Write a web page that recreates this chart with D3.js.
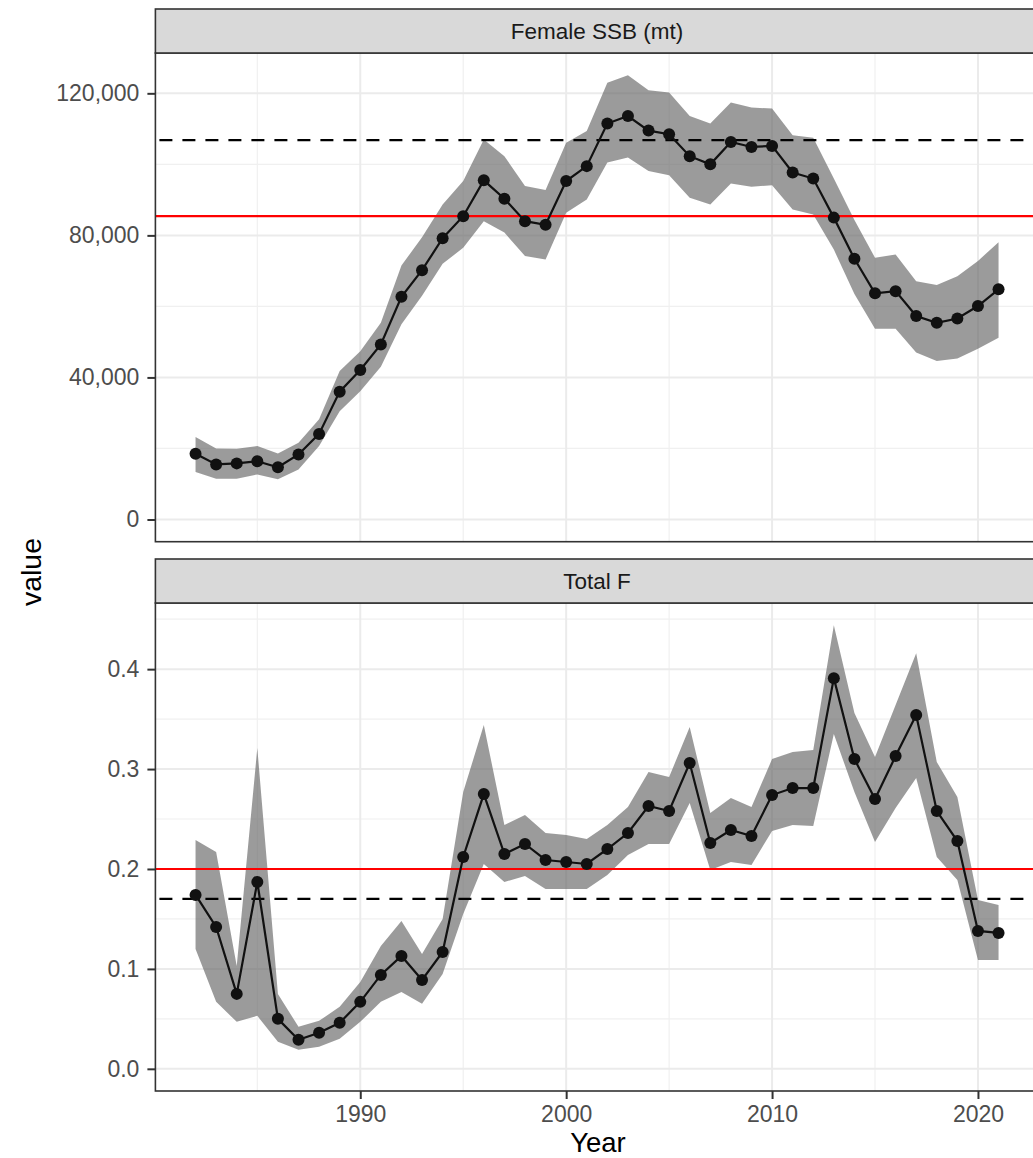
<!DOCTYPE html>
<html>
<head>
<meta charset="utf-8">
<script src="https://cdn.jsdelivr.net/npm/d3@7"></script>
<style>
  html, body { margin: 0; padding: 0; background: #fff; }
  svg { display: block; font-family: "Liberation Sans", Arial, Helvetica, sans-serif; }
</style>
</head>
<body>
<svg id="chart" width="1033" height="1158"></svg>
<script>
// Assessment time series, 1982-2021
const years = [1982,1983,1984,1985,1986,1987,1988,1989,1990,1991,1992,1993,1994,1995,1996,1997,1998,1999,2000,2001,
               2002,2003,2004,2005,2006,2007,2008,2009,2010,2011,2012,2013,2014,2015,2016,2017,2018,2019,2020,2021];

// Female spawning stock biomass (mt) with confidence band
const ssb   = [18500,15500,15800,16400,14700,18300,24100,36000,42100,49300,62700,70200,79200,85400,95500,90300,84000,83000,95300,99500,
               111500,113600,109500,108500,102300,100000,106300,104900,105200,97700,96000,85000,73400,63700,64300,57300,55400,56600,60100,64800];
const ssbLo = [13400,11500,11500,12700,11300,14100,20700,30500,36100,43000,55000,63000,72000,76500,84000,80800,74200,73200,86400,90100,
               100500,101900,98100,96900,90600,88700,94600,93700,94100,87300,85900,76000,63500,53700,53700,47000,44600,45300,48100,51200];
const ssbHi = [23200,20000,19900,20700,18600,21600,28200,41800,47400,55400,71500,79500,88700,95300,107000,102300,93900,92800,106100,109400,
               123000,125100,120900,120200,113600,111500,117400,116000,115700,108200,107500,96000,84300,73700,74600,67100,66000,68500,72800,78100];

// Total fishing mortality with confidence band
const fTot  = [0.174,0.142,0.075,0.187,0.050,0.029,0.036,0.046,0.067,0.094,0.113,0.089,0.117,0.212,0.275,0.215,0.225,0.209,0.207,0.205,
               0.220,0.236,0.263,0.258,0.306,0.226,0.239,0.233,0.274,0.281,0.281,0.391,0.310,0.270,0.313,0.354,0.258,0.228,0.138,0.136];
const fLo   = [0.120,0.067,0.047,0.053,0.027,0.019,0.022,0.030,0.047,0.067,0.077,0.065,0.095,0.155,0.205,0.187,0.193,0.180,0.180,0.180,
               0.194,0.214,0.225,0.225,0.266,0.199,0.207,0.204,0.238,0.244,0.243,0.335,0.277,0.227,0.261,0.291,0.212,0.189,0.109,0.109];
const fHi   = [0.229,0.217,0.103,0.321,0.075,0.042,0.048,0.062,0.087,0.123,0.148,0.115,0.150,0.277,0.344,0.244,0.254,0.236,0.234,0.230,
               0.244,0.262,0.297,0.292,0.342,0.256,0.271,0.262,0.310,0.317,0.319,0.444,0.356,0.312,0.364,0.416,0.307,0.272,0.169,0.164];

// Facet titles and reference points (target = dashed, threshold/limit = red)
const panelTitles = ["Female SSB (mt)", "Total F"];
const ssbRefs = { target: 106800, threshold: 85400 };
const fRefs   = { target: 0.17,   threshold: 0.2 };

// Tick values
const yearTicks = [1990, 2000, 2010, 2020];
const yearMinor = [1985, 1995, 2005, 2015];
const ssbTicks  = [0, 40000, 80000, 120000];
const ssbMinor  = [20000, 60000, 100000];
const fTicks    = [0.0, 0.1, 0.2, 0.3, 0.4];
const fMinor    = [0.05, 0.15, 0.25, 0.35, 0.45];

const svg = d3.select("#chart");

const left = 155.4, right = 1038.7;
const expand = (lo, hi) => { const d = (hi - lo) * 0.05; return [lo - d, hi + d]; };

const x = d3.scaleLinear()
  .domain(expand(d3.min(years), d3.max(years)))
  .range([left, right]);

const panels = [
  { title: panelTitles[0], est: ssb, lo: ssbLo, hi: ssbHi, refs: ssbRefs,
    ticks: ssbTicks, minor: ssbMinor, fmt: d3.format(","),
    stripTop: 9, top: 53, bottom: 541.7 },
  { title: panelTitles[1], est: fTot, lo: fLo, hi: fHi, refs: fRefs,
    ticks: fTicks, minor: fMinor, fmt: d3.format(".1f"),
    stripTop: 559, top: 603, bottom: 1091 }
];

const gridCol = "#ebebeb", borderCol = "#333333", tickTextCol = "#4d4d4d";

panels.forEach((p, i) => {
  const y = d3.scaleLinear()
    .domain(expand(0, d3.max(p.hi)))
    .range([p.bottom, p.top]);

  const clipId = "clip" + i;
  svg.append("clipPath").attr("id", clipId)
    .append("rect").attr("x", left).attr("y", p.top)
    .attr("width", right - left).attr("height", p.bottom - p.top);

  const g = svg.append("g").attr("clip-path", `url(#${clipId})`);

  // minor grid
  g.selectAll(null).data(yearMinor).join("line")
    .attr("x1", d => x(d)).attr("x2", d => x(d))
    .attr("y1", p.top).attr("y2", p.bottom)
    .attr("stroke", "#f0f0f0").attr("stroke-width", 1.2);
  g.selectAll(null).data(p.minor).join("line")
    .attr("x1", left).attr("x2", right)
    .attr("y1", d => y(d)).attr("y2", d => y(d))
    .attr("stroke", "#f0f0f0").attr("stroke-width", 1.2);
  // major grid
  g.selectAll(null).data(yearTicks).join("line")
    .attr("x1", d => x(d)).attr("x2", d => x(d))
    .attr("y1", p.top).attr("y2", p.bottom)
    .attr("stroke", gridCol).attr("stroke-width", 2);
  g.selectAll(null).data(p.ticks).join("line")
    .attr("x1", left).attr("x2", right)
    .attr("y1", d => y(d)).attr("y2", d => y(d))
    .attr("stroke", gridCol).attr("stroke-width", 2);

  const rows = years.map((yr, k) => ({ yr, v: p.est[k], lo: p.lo[k], hi: p.hi[k] }));

  // confidence band
  g.append("path").datum(rows)
    .attr("d", d3.area().x(d => x(d.yr)).y0(d => y(d.lo)).y1(d => y(d.hi)))
    .attr("fill", "#666666").attr("fill-opacity", 0.65);

  // reference lines
  g.append("line")
    .attr("x1", left).attr("x2", right)
    .attr("y1", y(p.refs.threshold)).attr("y2", y(p.refs.threshold))
    .attr("stroke", "#ff0000").attr("stroke-width", 2.2);
  g.append("line")
    .attr("x1", left).attr("x2", right)
    .attr("y1", y(p.refs.target)).attr("y2", y(p.refs.target))
    .attr("stroke", "#000").attr("stroke-width", 2.3)
    .attr("stroke-dasharray", "13,10").attr("stroke-dashoffset", -4);

  // estimate line and points
  g.append("path").datum(rows)
    .attr("d", d3.line().x(d => x(d.yr)).y(d => y(d.v)))
    .attr("fill", "none").attr("stroke", "#111").attr("stroke-width", 2.2);
  g.selectAll(null).data(rows).join("circle")
    .attr("cx", d => x(d.yr)).attr("cy", d => y(d.v)).attr("r", 6)
    .attr("fill", "#111");

  // panel border
  svg.append("rect")
    .attr("x", left).attr("y", p.top)
    .attr("width", right - left).attr("height", p.bottom - p.top)
    .attr("fill", "none").attr("stroke", borderCol).attr("stroke-width", 1.6);

  // strip
  svg.append("rect")
    .attr("x", left).attr("y", p.stripTop)
    .attr("width", right - left).attr("height", p.top - p.stripTop)
    .attr("fill", "#d9d9d9").attr("stroke", borderCol).attr("stroke-width", 1.6);
  svg.append("text")
    .attr("x", (left + right) / 2).attr("y", (p.stripTop + p.top) / 2)
    .attr("dy", "0.35em").attr("text-anchor", "middle")
    .attr("font-size", 22.5).attr("fill", "#1a1a1a")
    .text(p.title);

  // y axis
  const yAxis = d3.axisLeft(y).tickValues(p.ticks).tickFormat(p.fmt)
    .tickSize(8).tickPadding(8);
  const ya = svg.append("g").attr("transform", `translate(${left},0)`).call(yAxis);
  ya.select(".domain").remove();
  ya.selectAll(".tick line").attr("stroke", borderCol).attr("stroke-width", 2);
  ya.selectAll(".tick text").attr("fill", tickTextCol).attr("font-size", 23)
    .attr("font-family", "'Liberation Sans', Arial, sans-serif");

  // x axis on the bottom panel only
  if (i === panels.length - 1) {
    const xAxis = d3.axisBottom(x).tickValues(yearTicks).tickFormat(d3.format("d"))
      .tickSize(8).tickPadding(7);
    const xa = svg.append("g").attr("transform", `translate(0,${p.bottom})`).call(xAxis);
    xa.select(".domain").remove();
    xa.selectAll(".tick line").attr("stroke", borderCol).attr("stroke-width", 2);
    xa.selectAll(".tick text").attr("fill", tickTextCol).attr("font-size", 23)
      .attr("font-family", "'Liberation Sans', Arial, sans-serif");
  }
});

// axis titles
svg.append("text")
  .attr("x", 598).attr("y", 1152)
  .attr("text-anchor", "middle").attr("font-size", 27.5).attr("fill", "#000")
  .text("Year");
svg.append("text")
  .attr("transform", "translate(41,572) rotate(-90)")
  .attr("text-anchor", "middle").attr("font-size", 28.5).attr("fill", "#000")
  .text("value");
</script>
</body>
</html>
